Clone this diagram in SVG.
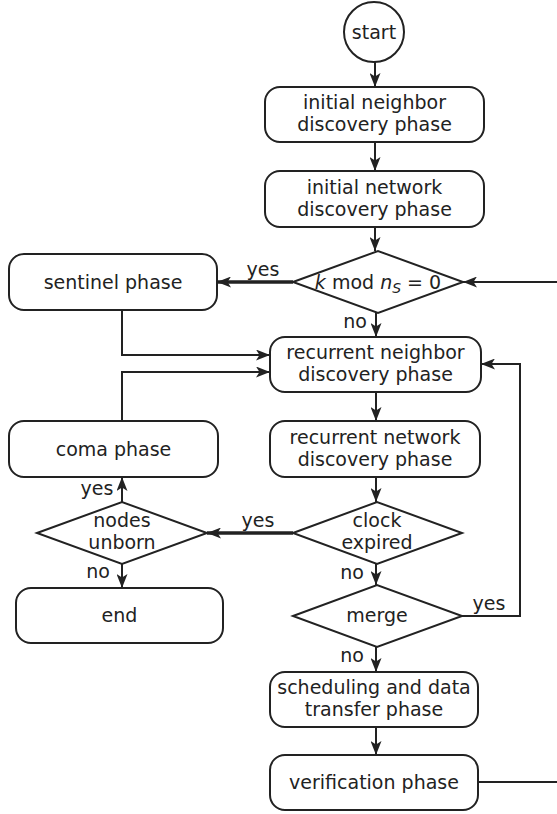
<svg xmlns="http://www.w3.org/2000/svg" width="557" height="814" viewBox="0 0 557 814">
<defs>
<style>
.n{fill:#fff;stroke:#222;stroke-width:2}
.t{font-family:"DejaVu Sans",sans-serif;font-size:19px;fill:#222;text-anchor:middle}
.c{fill:none;stroke:#222;stroke-width:2}
.k{fill:none;stroke:#222;stroke-width:3.5}
.i{font-style:italic}
</style>
<marker id="ah" viewBox="0 0 14 11" refX="14" refY="5.5" markerWidth="14" markerHeight="11" orient="auto" markerUnits="userSpaceOnUse"><path d="M0,0 L14,5.5 L0,11 L3.5,5.5 z" fill="#222"/></marker>
</defs>
<rect width="557" height="814" fill="#fff"/>
<g id="connectors">
<path class="c" d="M375,62 V87" marker-end="url(#ah)"/>
<path class="c" d="M375,142 V171" marker-end="url(#ah)"/>
<path class="c" d="M375,227 V251" marker-end="url(#ah)"/>
<path class="c" d="M376,313 V337" marker-end="url(#ah)"/>
<path class="c" d="M376,392 V421" marker-end="url(#ah)"/>
<path class="c" d="M376,477 V502" marker-end="url(#ah)"/>
<path class="c" d="M376,564 V585" marker-end="url(#ah)"/>
<path class="c" d="M376,647 V672" marker-end="url(#ah)"/>
<path class="c" d="M376,727 V755" marker-end="url(#ah)"/>
<path class="c" d="M478,782 H557"/>
<path class="c" d="M557,282 H463" marker-end="url(#ah)"/>
<path class="k" d="M293,282 H217" marker-end="url(#ah)"/>
<path class="c" d="M122,310 V355 H270" marker-end="url(#ah)"/>
<path class="c" d="M122,421 V372 H270" marker-end="url(#ah)"/>
<path class="c" d="M462,616 H520 V364 H481" marker-end="url(#ah)"/>
<path class="k" d="M293,533 H207" marker-end="url(#ah)"/>
<path class="c" d="M122,502 V477" marker-end="url(#ah)"/>
<path class="c" d="M122,564 V588" marker-end="url(#ah)"/>
<text class="t" x="263" y="276">yes</text>
<text class="t" x="355" y="328">no</text>
<text class="t" x="97" y="495">yes</text>
<text class="t" x="98" y="578">no</text>
<text class="t" x="258" y="527">yes</text>
<text class="t" x="352" y="579">no</text>
<text class="t" x="489" y="610">yes</text>
<text class="t" x="352" y="662">no</text>
</g>
<g id="start"><circle class="n" cx="374" cy="32" r="30"/><text class="t" x="374" y="38.5">start</text></g>
<g id="initNeighbor"><rect class="n" x="265" y="87" width="219" height="55" rx="15"/><text class="t" x="374.5" y="109">initial neighbor</text><text class="t" x="374.5" y="131">discovery phase</text></g>
<g id="initNetwork"><rect class="n" x="265" y="171" width="219" height="56" rx="15"/><text class="t" x="374.5" y="193.5">initial network</text><text class="t" x="374.5" y="215.5">discovery phase</text></g>
<g id="kmod"><polygon class="n" points="293,282 378,251 463,282 378,313"/><text class="t" x="378" y="289"><tspan class="i">k</tspan> mod <tspan class="i">n</tspan><tspan class="i" font-size="14" dy="4">S</tspan><tspan dy="-4"> = 0</tspan></text></g>
<g id="sentinel"><rect class="n" x="9" y="254" width="208" height="56" rx="15"/><text class="t" x="113" y="288.5">sentinel phase</text></g>
<g id="recNeighbor"><rect class="n" x="270" y="337" width="211" height="55" rx="15"/><text class="t" x="375.5" y="359">recurrent neighbor</text><text class="t" x="375.5" y="381">discovery phase</text></g>
<g id="recNetwork"><rect class="n" x="270" y="421" width="210" height="56" rx="15"/><text class="t" x="375" y="443.5">recurrent network</text><text class="t" x="375" y="465.5">discovery phase</text></g>
<g id="coma"><rect class="n" x="9" y="421" width="209" height="56" rx="15"/><text class="t" x="113.5" y="455.5">coma phase</text></g>
<g id="clock"><polygon class="n" points="293,533 377,502 462,533 377,564"/><text class="t" x="377" y="527">clock</text><text class="t" x="377" y="549">expired</text></g>
<g id="nodesUnborn"><polygon class="n" points="37,533 122,502 207,533 122,564"/><text class="t" x="122" y="527">nodes</text><text class="t" x="122" y="549">unborn</text></g>
<g id="end"><rect class="n" x="16" y="588" width="207" height="55" rx="15"/><text class="t" x="119.5" y="622">end</text></g>
<g id="merge"><polygon class="n" points="293,616 377,585 462,616 377,647"/><text class="t" x="377" y="622">merge</text></g>
<g id="scheduling"><rect class="n" x="270" y="672" width="208" height="55" rx="15"/><text class="t" x="374" y="694">scheduling and data</text><text class="t" x="374" y="716">transfer phase</text></g>
<g id="verification"><rect class="n" x="270" y="755" width="208" height="55" rx="15"/><text class="t" x="374" y="789">verification phase</text></g>
</svg>
